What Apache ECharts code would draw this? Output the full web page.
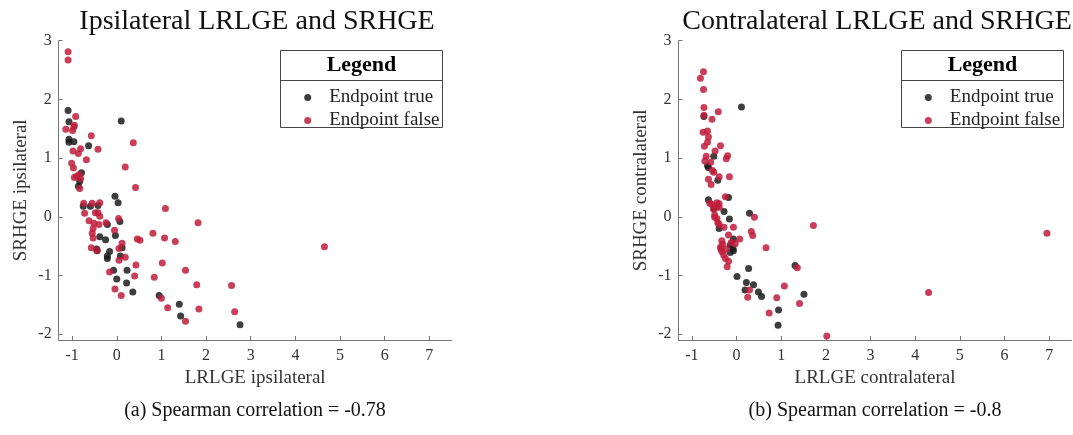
<!DOCTYPE html>
<html>
<head>
<meta charset="utf-8">
<script src="https://cdn.jsdelivr.net/npm/echarts@6/dist/echarts.min.js"></script>
<style>
html, body { margin: 0; padding: 0; background: #fff; }
#chart { width: 1073px; height: 435px; }
</style>
</head>
<body>
<div id="chart"></div>
<script>
// [LRLGE, SRHGE] pairs
var ipsiTrue = [
  [-1.09, 1.81], [-1.07, 1.62], [0.10, 1.63], [-1.07, 1.32], [-1.07, 1.27], [-0.96, 1.28],
  [-0.63, 1.21], [-0.79, 0.75], [-0.86, 0.52], [-0.83, 0.60], [-0.04, 0.35], [0.03, 0.24],
  [-0.75, 0.18], [-0.59, 0.18], [-0.42, 0.19], [-0.21, -0.13], [0.07, -0.08], [-0.38, -0.34],
  [-0.25, -0.39], [-0.03, -0.32], [-0.45, -0.55], [-0.44, -0.58], [-0.16, -0.59], [-0.21, -0.67],
  [-0.21, -0.71], [0.12, -0.53], [0.08, -0.67], [-0.07, -0.91], [0.23, -0.91], [0.00, -1.06],
  [0.22, -1.13], [0.36, -1.28], [0.95, -1.34], [1.40, -1.49], [1.43, -1.69], [2.76, -1.84]
]
var ipsiFalse = [
  [-1.09, 2.81], [-1.09, 2.67], [-0.92, 1.71], [-1.14, 1.49], [-0.95, 1.56], [-0.96, 1.53],
  [-0.99, 1.47], [-0.57, 1.38], [-0.81, 1.16], [-0.42, 1.15], [-0.98, 1.12], [-0.86, 1.08],
  [-0.68, 0.97], [0.37, 1.26], [0.19, 0.85], [-1.01, 0.91], [-0.97, 0.83], [-0.95, 0.67],
  [-0.90, 0.69], [-0.84, 0.72], [-0.81, 0.65], [-0.83, 0.48], [0.42, 0.50], [-0.74, 0.23],
  [-0.55, 0.23], [-0.38, 0.24], [-0.72, 0.06], [-0.48, 0.07], [-0.42, 0.07], [-0.38, 0.01],
  [-0.62, -0.07], [-0.51, -0.11], [-0.40, -0.13], [-0.24, -0.10], [0.04, -0.03], [-0.53, -0.20],
  [-0.55, -0.28], [-0.53, -0.36], [-0.05, -0.23], [-0.57, -0.53], [-0.44, -0.57], [0.12, -0.45],
  [0.05, -0.54], [0.05, -0.74], [0.19, -0.69], [0.46, -0.38], [0.52, -0.40], [0.81, -0.28],
  [1.09, 0.14], [1.07, -0.36], [1.31, -0.42], [1.82, -0.10], [4.65, -0.51], [0.43, -0.82],
  [1.02, -0.79], [1.54, -0.91], [-0.16, -0.94], [0.40, -1.01], [0.84, -1.03], [1.79, -1.16],
  [2.57, -1.17], [-0.04, -1.23], [0.10, -1.34], [1.00, -1.39], [1.14, -1.55], [1.84, -1.57],
  [2.64, -1.62], [1.54, -1.78]
]
var contraTrue = [
  [-0.73, 1.71], [0.11, 1.87], [-0.51, 1.03], [-0.65, 0.87], [-0.63, 0.84], [-0.42, 0.62],
  [-0.18, 0.33], [-0.63, 0.29], [-0.51, 0.14], [-0.28, 0.09], [-0.16, -0.04], [-0.39, -0.20],
  [0.29, 0.06], [-0.07, -0.38], [-0.14, -0.48], [-0.08, -0.54], [-0.07, -0.58], [-0.14, -0.61],
  [0.27, -0.88], [1.31, -0.83], [0.01, -1.02], [0.22, -1.12], [0.19, -1.25], [0.38, -1.16],
  [0.49, -1.28], [0.56, -1.36], [1.51, -1.32], [0.94, -1.59], [0.93, -1.85]
]
var contraFalse = [
  [-0.74, 2.47], [-0.81, 2.36], [-0.74, 2.17], [-0.73, 1.86], [-0.73, 1.73], [-0.55, 1.66],
  [-0.41, 1.79], [-0.75, 1.44], [-0.65, 1.46], [-0.63, 1.36], [-0.72, 1.20], [-0.65, 1.27],
  [-0.36, 1.21], [-0.48, 1.12], [-0.20, 1.04], [-0.23, 0.99], [-0.68, 1.03], [-0.71, 0.95],
  [-0.58, 0.93], [-0.54, 0.79], [-0.51, 0.76], [-0.63, 0.64], [-0.39, 0.68], [-0.16, 0.68],
  [-0.57, 0.55], [-0.25, 0.34], [-0.60, 0.23], [-0.44, 0.24], [-0.39, 0.22], [-0.45, 0.16],
  [-0.51, 0.13], [-0.39, 0.16], [-0.55, 0.21], [-0.49, 0.03], [-0.49, -0.01], [-0.44, -0.03],
  [-0.42, -0.10], [-0.39, -0.13], [-0.28, -0.18], [-0.07, -0.18], [0.40, -0.01], [0.33, -0.25],
  [0.36, -0.32], [-0.18, -0.31], [0.07, -0.38], [-0.03, -0.46], [-0.12, -0.44], [-0.33, -0.41],
  [-0.31, -0.47], [-0.36, -0.52], [-0.35, -0.55], [-0.33, -0.59], [-0.23, -0.55], [-0.29, -0.65],
  [-0.25, -0.71], [-0.18, -0.76], [-0.21, -0.85], [0.66, -0.53], [1.72, -0.15], [1.36, -0.87],
  [0.29, -1.25], [0.25, -1.37], [1.07, -1.18], [0.90, -1.38], [1.41, -1.48], [0.73, -1.64],
  [6.95, -0.28], [4.30, -1.29], [2.02, -2.03]
]
var xTicks = [-1, 0, 1, 2, 3, 4, 5, 6, 7]
var yTicks = [-2, -1, 0, 1, 2, 3]
var seriesNames = ['Endpoint true', 'Endpoint false']

var FONT = 'Liberation Serif'
var colTrue = '#1c1c1c'
var colFalse = '#c01d3c'

function xAxis(idx, name) {
  return {
    type: 'value',
    gridIndex: idx,
    min: -1.3,
    max: 7.5,
    name: name,
    nameLocation: 'middle',
    nameGap: 25,
    nameTextStyle: { fontFamily: FONT, fontSize: 19, color: '#333' },
    axisLine: { onZero: false, lineStyle: { color: '#777', width: 1 } },
    axisTick: { inside: true, length: 4, customValues: xTicks, lineStyle: { color: '#777' } },
    axisLabel: { customValues: xTicks, margin: 8, fontFamily: FONT, fontSize: 16, color: '#333' },
    splitLine: { show: false }
  }
}
function yAxis(idx, name) {
  return {
    type: 'value',
    gridIndex: idx,
    min: -2.1,
    max: 3,
    name: name,
    nameLocation: 'middle',
    nameGap: 28,
    nameTextStyle: { fontFamily: FONT, fontSize: 19, color: '#333' },
    axisLine: { show: true, onZero: false, lineStyle: { color: '#777', width: 1 } },
    axisTick: { show: true, inside: true, length: 4, customValues: yTicks, lineStyle: { color: '#777' } },
    axisLabel: { customValues: yTicks, margin: 7, fontFamily: FONT, fontSize: 16, color: '#333' },
    splitLine: { show: false }
  }
}
function scatter(idx, name, data, color) {
  return {
    name: name,
    type: 'scatter',
    xAxisIndex: idx,
    yAxisIndex: idx,
    data: data,
    symbolSize: 7,
    itemStyle: { color: color, opacity: 0.85 },
    emphasis: { disabled: true }
  }
}
function legendAt(left) {
  return {
    orient: 'vertical',
    left: left,
    top: 83,
    icon: 'circle',
    itemWidth: 7,
    itemHeight: 7,
    itemGap: 4,
    data: seriesNames,
    textStyle: { fontFamily: FONT, fontSize: 19, lineHeight: 19, color: '#222', padding: [0, 0, 0, 13] }
  }
}
// legend frame + header
function legendBox(x) {
  return [
    { type: 'rect', shape: { x: x, y: 50.5, width: 162, height: 77 }, style: { fill: 'none', stroke: '#444', lineWidth: 1 }, z: 5 },
    { type: 'line', shape: { x1: x, y1: 80.5, x2: x + 162, y2: 80.5 }, style: { stroke: '#444', lineWidth: 1 }, z: 5 },
    { type: 'text', x: x + 81, y: 65.5, style: { text: 'Legend', fontFamily: FONT, fontSize: 22, fontWeight: 'bold', fill: '#000', align: 'center', verticalAlign: 'middle' }, z: 5 }
  ]
}

function titleAt(text, cx, top, size) {
  return { text: text, left: cx, top: top, textAlign: 'center',
    textStyle: { fontFamily: FONT, fontWeight: 'normal', fontSize: size, color: '#111' } }
}

var chart = echarts.init(document.getElementById('chart'))
chart.setOption({
  animation: false,
  title: [
    titleAt('Ipsilateral LRLGE and SRHGE', 252, 3, 28),
    titleAt('Contralateral LRLGE and SRHGE', 872, 3, 28),
    titleAt('(a) Spearman correlation = -0.78', 250, 396, 20),
    titleAt('(b) Spearman correlation = -0.8', 870, 396, 20)
  ],
  grid: [
    { left: 58.7, top: 40.7, width: 393, height: 299.3 },
    { left: 678.5, top: 40.7, width: 393, height: 299.3 }
  ],
  xAxis: [xAxis(0, 'LRLGE ipsilateral'), xAxis(1, 'LRLGE contralateral')],
  yAxis: [yAxis(0, 'SRHGE ipsilateral'), yAxis(1, 'SRHGE contralateral')],
  legend: [legendAt(299.2), legendAt(919.8)],
  graphic: legendBox(280.5).concat(legendBox(901.5)),
  series: [
    scatter(0, seriesNames[0], ipsiTrue, colTrue),
    scatter(0, seriesNames[1], ipsiFalse, colFalse),
    scatter(1, seriesNames[0], contraTrue, colTrue),
    scatter(1, seriesNames[1], contraFalse, colFalse)
  ]
})
</script>
</body>
</html>
